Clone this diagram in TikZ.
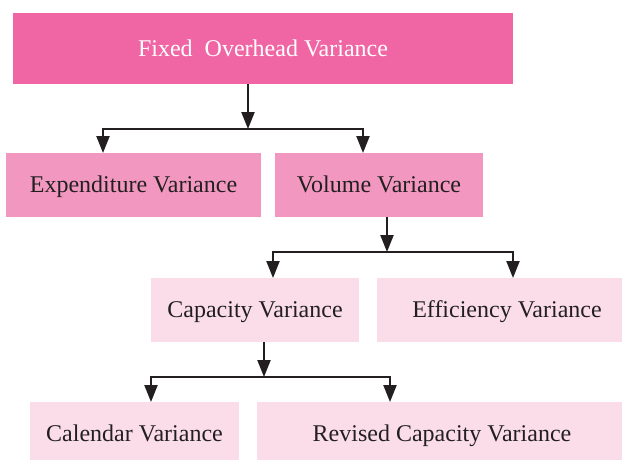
\documentclass[tikz,border=0pt]{standalone}
\usepackage{fontspec}
\setmainfont{Liberation Serif}
\usetikzlibrary{arrows.meta}
\definecolor{topc}{HTML}{F066A4}
\definecolor{midc}{HTML}{F298C0}
\definecolor{lowc}{HTML}{FADDE9}
\definecolor{ink}{HTML}{231F20}
\begin{document}
\begin{tikzpicture}[x=1pt,y=-1pt,
  box/.style={rectangle,inner sep=0pt,outer sep=0pt,font=\fontsize{24}{27}\selectfont,text=ink,text height=17pt,text depth=2pt},
  topbox/.style={box,fill=topc,text=white},
  midbox/.style={box,fill=midc},
  lowbox/.style={box,fill=lowc},
  conn/.style={draw=ink,line width=2.2pt},
  arr/.style={conn,-{Triangle[length=17pt,width=13pt]}}]
\useasboundingbox (0,0) rectangle (622,459);
\clip (0,0) rectangle (622,459);
\fill[white] (0,0) rectangle (622,459);
% boxes
\node[topbox,minimum width=500pt,minimum height=71pt] (fov) at (263,48.5) {Fixed\ \ Overhead Variance};
\node[midbox,minimum width=255pt,minimum height=64pt] (exp) at (133.5,185) {Expenditure Variance};
\node[midbox,minimum width=208pt,minimum height=64pt] (vol) at (379,185) {Volume Variance};
\node[lowbox,minimum width=208pt,minimum height=64pt] (cap) at (255,310) {Capacity Variance};
\node[lowbox,minimum width=260pt,minimum height=64pt] (eff) at (507,310) {Efficiency Variance};
\node[lowbox,minimum width=209pt,minimum height=64pt] (cal) at (134.5,434) {Calendar Variance};
\node[lowbox,minimum width=370pt,minimum height=64pt] (rev) at (442,434) {Revised Capacity Variance};
% junctions
\coordinate (j1) at (248,129);
\coordinate (l1) at (103,129);
\coordinate (r1) at (363,129);
\coordinate (j2) at (387,252);
\coordinate (l2) at (273,252);
\coordinate (r2) at (513,252);
\coordinate (j3) at (264,377);
\coordinate (l3) at (151,377);
\coordinate (r3) at (390,377);
% connectors
\draw[arr] (fov.south -| j1) -- (j1);
\draw[conn] ([xshift=-1.1pt]l1) -- ([xshift=1.1pt]r1);
\draw[arr] ([yshift=-1.1pt]l1) -- (exp.north -| l1);
\draw[arr] ([yshift=-1.1pt]r1) -- (vol.north -| r1);
\draw[arr] (vol.south -| j2) -- (j2);
\draw[conn] ([xshift=-1.1pt]l2) -- ([xshift=1.1pt]r2);
\draw[arr] ([yshift=-1.1pt]l2) -- (cap.north -| l2);
\draw[arr] ([yshift=-1.1pt]r2) -- (eff.north -| r2);
\draw[arr] (cap.south -| j3) -- (j3);
\draw[conn] ([xshift=-1.1pt]l3) -- ([xshift=1.1pt]r3);
\draw[arr] ([yshift=-1.1pt]l3) -- (cal.north -| l3);
\draw[arr] ([yshift=-1.1pt]r3) -- (rev.north -| r3);
\end{tikzpicture}
\end{document}
